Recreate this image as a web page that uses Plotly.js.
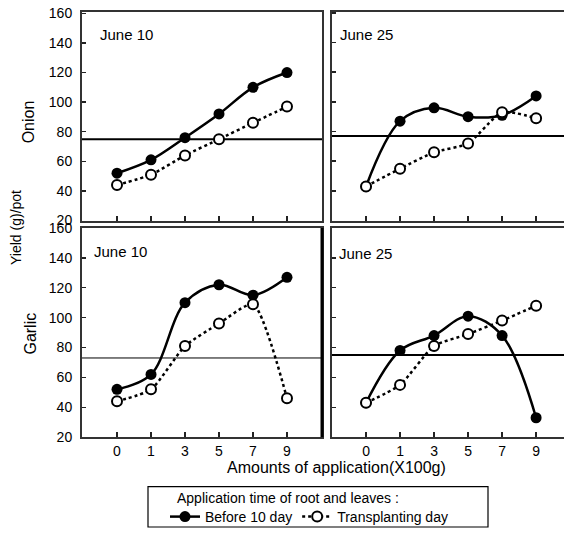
<!DOCTYPE html>
<html>
<head>
<meta charset="utf-8">
<script src="https://cdn.plot.ly/plotly-3.0.1.min.js"></script>
<style>
  html, body { margin: 0; padding: 0; background: #fff; }
  #chart { width: 564px; height: 533px; }
</style>
</head>
<body>
<div id="chart"></div>
<script>
// Application amounts (x100 g), shown as evenly spaced categories
const doses = ['0', '1', '3', '5', '7', '9'];

// Yield (g)/pot — onion
const onionJune10Before = [52, 61, 76, 92, 110, 120];
const onionJune10Transplant = [44, 51, 64, 75, 86, 97];
const onionJune25Before = [43, 87, 96, 90, 91, 104];
const onionJune25Transplant = [43, 55, 66, 72, 93, 89];

// Yield (g)/pot — garlic
const garlicJune10Before = [52, 62, 110, 122, 115, 127];
const garlicJune10Transplant = [44, 52, 81, 96, 109, 46];
const garlicJune25Before = [43, 78, 88, 101, 88, 33];
const garlicJune25Transplant = [43, 55, 81, 89, 98, 108];

// Control yield level for each panel (TL, TR, BL, BR)
const controlLevels = [75, 77, 73, 75];
const controlWidths = [2, 2, 1, 2];

const panelLabels = ['June 10', 'June 25', 'June 10', 'June 25'];
const cropLabels = ['Onion', 'Garlic'];
const yTicks = [20, 40, 60, 80, 100, 120, 140, 160];

const seriesNames = ['Before 10 day', 'Transplanting day'];
const legendTitle = 'Application time of root and leaves :';
const xTitle = 'Amounts of application(X100g)';
const yTitle = 'Yield (g)/pot';

const W = 564, H = 533;
const px = v => v / W;
const py = v => 1 - v / H;
const FONT = 'Liberation Sans, Arial, sans-serif';

function beforeTrace(y, xa, ya, show) {
  return {
    x: doses, y: y, xaxis: xa, yaxis: ya, type: 'scatter', mode: 'lines+markers',
    name: seriesNames[0], showlegend: show, legendgroup: 'b',
    line: { color: '#000', width: 2.5, shape: 'spline', smoothing: 1 },
    marker: { symbol: 'circle', size: 11, color: '#000' }
  };
}
function transplantTrace(y, xa, ya, show) {
  return {
    x: doses, y: y, xaxis: xa, yaxis: ya, type: 'scatter', mode: 'lines+markers',
    name: seriesNames[1], showlegend: show, legendgroup: 't',
    line: { color: '#000', width: 2.5, dash: 'dot', shape: 'spline', smoothing: 0.6 },
    marker: { symbol: 'circle', size: 10, color: '#fff', line: { color: '#000', width: 2 } }
  };
}

const data = [
  beforeTrace(onionJune10Before, 'x', 'y', true),
  transplantTrace(onionJune10Transplant, 'x', 'y', true),
  beforeTrace(onionJune25Before, 'x2', 'y2', false),
  transplantTrace(onionJune25Transplant, 'x2', 'y2', false),
  beforeTrace(garlicJune10Before, 'x3', 'y3', false),
  transplantTrace(garlicJune10Transplant, 'x3', 'y3', false),
  beforeTrace(garlicJune25Before, 'x4', 'y4', false),
  transplantTrace(garlicJune25Transplant, 'x4', 'y4', false)
];

const leftDom = [px(82), px(322)];
const rightDom = [px(332), 1];
const topDom = [py(223.5), py(12)];
const botDom = [py(443), py(231)];

function xAxis(domain, range, anchor, labels) {
  return {
    domain: domain, range: range, anchor: anchor, type: 'category',
    showline: true, linecolor: '#333', linewidth: 2, mirror: true,
    ticks: 'inside', ticklen: 5, tickwidth: 2, tickcolor: '#222',
    showgrid: false, zeroline: false, showticklabels: labels,
    tickfont: { family: FONT, size: 14, color: '#000' }
  };
}
function yAxis(domain, range, anchor, labels, mirror) {
  return {
    domain: domain, range: range, anchor: anchor,
    tickvals: yTicks, showline: true, linecolor: '#333', linewidth: 2, mirror: mirror,
    ticks: 'inside', ticklen: 4, tickwidth: 1.5, tickcolor: '#222',
    showgrid: false, zeroline: false, showticklabels: labels,
    ticklabelstandoff: 5,
    tickfont: { family: FONT, size: 14, color: '#000' }
  };
}

const xRangeL = [-1.03, 6.03];
const xRangeR = [-1.0, 5.82];

const shapes = [];
const yRefs = ['y', 'y2', 'y3', 'y4'];
const xRefs = ['x', 'x2', 'x3', 'x4'];
controlLevels.forEach((v, i) => {
  shapes.push({
    type: 'line', xref: xRefs[i] + ' domain', yref: yRefs[i],
    x0: 0, x1: 1, y0: v, y1: v, layer: 'below',
    line: { color: '#000', width: controlWidths[i] }
  });
});
// heavier right frame on the lower-left panel
shapes.push({
  type: 'line', xref: 'x3 domain', yref: 'y3 domain',
  x0: 1, x1: 1, y0: 0, y1: 1, line: { color: '#000', width: 3 }
});
// legend frame
shapes.push({
  type: 'rect', xref: 'paper', yref: 'paper',
  x0: px(148), x1: px(488), y0: py(534), y1: py(493),
  line: { color: '#000', width: 1.2 }, fillcolor: 'rgba(0,0,0,0)'
});

const annotations = [];
const panelPos = [[98, 35], [338, 35], [92, 255], [337, 257]];
panelLabels.forEach((t, i) => {
  annotations.push({
    text: t, xref: 'paper', yref: 'paper', x: px(panelPos[i][0]), y: py(panelPos[i][1]),
    xanchor: 'left', yanchor: 'middle', showarrow: false,
    font: { family: FONT, size: 15, color: '#000' }
  });
});
annotations.push({
  text: cropLabels[0], xref: 'paper', yref: 'paper', x: px(28), y: py(124),
  textangle: -90, showarrow: false, xanchor: 'center', yanchor: 'middle',
  font: { family: FONT, size: 16, color: '#000' }
});
annotations.push({
  text: cropLabels[1], xref: 'paper', yref: 'paper', x: px(31), y: py(338),
  textangle: -90, showarrow: false, xanchor: 'center', yanchor: 'middle',
  font: { family: FONT, size: 16, color: '#000' }
});
annotations.push({
  text: yTitle, xref: 'paper', yref: 'paper', x: px(16), y: py(231),
  textangle: -90, showarrow: false, xanchor: 'center', yanchor: 'middle',
  font: { family: FONT, size: 14, color: '#000' }
});
annotations.push({
  text: xTitle, xref: 'paper', yref: 'paper', x: px(337), y: py(474),
  showarrow: false, xanchor: 'center', yanchor: 'middle',
  font: { family: FONT, size: 16, color: '#000' }
});
annotations.push({
  text: legendTitle, xref: 'paper', yref: 'paper', x: px(175), y: py(505),
  showarrow: false, xanchor: 'left', yanchor: 'middle',
  font: { family: FONT, size: 14, color: '#000' }
});

const layout = {
  width: W, height: H,
  margin: { l: 0, r: 0, t: 0, b: 0 },
  paper_bgcolor: '#fff', plot_bgcolor: 'rgba(0,0,0,0)',
  showlegend: true,
  legend: {
    orientation: 'h', x: px(165), y: py(524), xanchor: 'left', yanchor: 'middle',
    bgcolor: 'rgba(0,0,0,0)', borderwidth: 0,
    font: { family: FONT, size: 14, color: '#000' }
  },
  xaxis: xAxis(leftDom, xRangeL, 'y', false),
  yaxis: yAxis(topDom, [20, 161], 'x', true, true),
  xaxis2: xAxis(rightDom, xRangeR, 'y2', false),
  yaxis2: yAxis(topDom, [20, 160.7], 'x2', false, false),
  xaxis3: xAxis(leftDom, xRangeL, 'y3', true),
  yaxis3: yAxis(botDom, [20, 160], 'x3', true, true),
  xaxis4: xAxis(rightDom, xRangeR, 'y4', true),
  yaxis4: yAxis(botDom, [20, 160], 'x4', false, false),
  shapes: shapes,
  annotations: annotations
};

Plotly.newPlot('chart', data, layout, { staticPlot: true, displayModeBar: false });
</script>
</body>
</html>
